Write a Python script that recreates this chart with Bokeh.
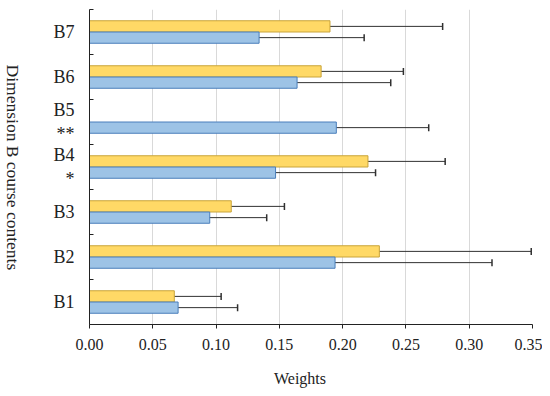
import numpy as np
from bokeh.plotting import figure
from bokeh.layouts import row
from bokeh.models import (ColumnDataSource, Whisker, TeeHead, FixedTicker, LinearAxis, Range1d,
                          CustomJSTickFormatter)
from bokeh.core.properties import value
from bokeh.embed import file_html
from bokeh.resources import INLINE

categories = ["B1", "B2", "B3", "B4", "B5", "B6", "B7"]
cat_labels = ["B1", "B2", "B3", "B4\n*", "B5\n**", "B6", "B7"]
yellow_vals = [0.067, 0.229, 0.112, 0.220, 0.0, 0.183, 0.190]
yellow_err = [0.037, 0.120, 0.042, 0.061, 0.0, 0.065, 0.089]
blue_vals = [0.070, 0.194, 0.095, 0.147, 0.195, 0.164, 0.134]
blue_err = [0.047, 0.124, 0.045, 0.079, 0.073, 0.074, 0.083]
x_ticks = [0.00, 0.05, 0.10, 0.15, 0.20, 0.25, 0.30, 0.35]
y_title = "Dimension B course contents"
x_title = "Weights"

FONT = "Liberation Serif"
H = 391

idx = np.arange(len(categories))
centers = idx + 0.5
yv = np.array(yellow_vals)
ye = np.array(yellow_err)
bv = np.array(blue_vals)
be = np.array(blue_err)

ysrc = ColumnDataSource(dict(y=centers + 0.125, v=yv))
bsrc = ColumnDataSource(dict(y=centers - 0.125, v=bv, lo=bv - be, hi=bv + be))
ymask = yv > 0
yerr_src = ColumnDataSource(dict(y=(centers + 0.125)[ymask], lo=(yv - ye)[ymask], hi=(yv + ye)[ymask]))

# ---- narrow panel holding the vertical y-axis title (reads top to bottom)
tf = figure(width=24, height=H, output_backend="svg", toolbar_location=None,
            x_range=Range1d(0, 1), y_range=Range1d(0, H),
            min_border=0, min_border_left=0, min_border_right=0, min_border_top=0, min_border_bottom=0)
tf.axis.visible = False
tf.grid.grid_line_color = None
tf.outline_line_color = None
tf.text(x=[0.5], y=[H - 196], text=[y_title], angle=-np.pi / 2,
        text_font=value(FONT), text_font_size="17.5px", text_color="#222222",
        text_align="center", text_baseline="middle")

# ---- main chart
p = figure(width=518, height=H, output_backend="svg", toolbar_location=None,
           x_range=Range1d(0, 0.35), y_range=Range1d(0, 7),
           min_border_left=65, min_border_top=9, min_border_right=10, min_border_bottom=H - 9 - 315)
p.outline_line_color = None
p.background_fill_color = "white"

p.hbar(y="y", left=0, right="v", height=0.25, source=ysrc,
       fill_color="#FFD966", line_color="#C9A43A", line_width=1)
p.hbar(y="y", left=0, right="v", height=0.25, source=bsrc,
       fill_color="#9DC3E6", line_color="#4A7EBB", line_width=1)

for src in (yerr_src, bsrc):
    w = Whisker(base="y", lower="lo", upper="hi", dimension="width", source=src,
                line_color="#303030", line_width=1,
                lower_head=TeeHead(size=7, line_color="#303030", line_width=1.5),
                upper_head=TeeHead(size=7, line_color="#303030", line_width=1.5))
    p.add_layout(w)

# x axis
p.xaxis.ticker = FixedTicker(ticks=x_ticks)
p.xaxis.formatter = CustomJSTickFormatter(code="return tick.toFixed(2);")
p.xaxis.major_label_text_font = FONT
p.xaxis.major_label_text_font_size = "16px"
p.xaxis.major_label_text_color = "#222222"
p.xaxis.major_label_standoff = 10
p.xaxis.major_tick_in = 0
p.xaxis.major_tick_out = 4
p.xaxis.minor_tick_line_color = None
p.xaxis.axis_line_color = "#222222"
p.xaxis.major_tick_line_color = "#222222"

# x-axis title, placed slightly left of centre as in the reference
x_title_pos = 0.1663
xt_axis = LinearAxis(ticker=FixedTicker(ticks=[x_title_pos]),
                     major_label_overrides={x_title_pos: x_title},
                     axis_line_color=None, major_tick_line_color=None, minor_tick_line_color=None,
                     major_tick_in=0, major_tick_out=0, major_label_standoff=17,
                     major_label_text_font=FONT, major_label_text_font_size="16px",
                     major_label_text_color="#222222")
p.add_layout(xt_axis, "below")

p.xgrid.ticker = FixedTicker(ticks=x_ticks)
p.xgrid.grid_line_color = "#D9D9D9"
p.ygrid.grid_line_color = None

# y axis: labels at category centres, small ticks at category boundaries (minor ticks)
p.yaxis.ticker = FixedTicker(ticks=list(centers), minor_ticks=list(range(0, 8)))
p.yaxis.major_label_overrides = {float(c): l for c, l in zip(centers, cat_labels)}
p.yaxis.major_tick_line_color = None
p.yaxis.major_tick_in = 0
p.yaxis.major_tick_out = 0
p.yaxis.minor_tick_in = 4
p.yaxis.minor_tick_out = 0
p.yaxis.minor_tick_line_color = "#222222"
p.yaxis.axis_line_color = "#222222"
p.yaxis.major_label_standoff = 15
p.yaxis.major_label_text_font = FONT
p.yaxis.major_label_text_font_size = "18px"
p.yaxis.major_label_text_color = "#222222"

layout = row(tf, p, spacing=0)
open("out.html", "w").write(file_html(layout, INLINE))
